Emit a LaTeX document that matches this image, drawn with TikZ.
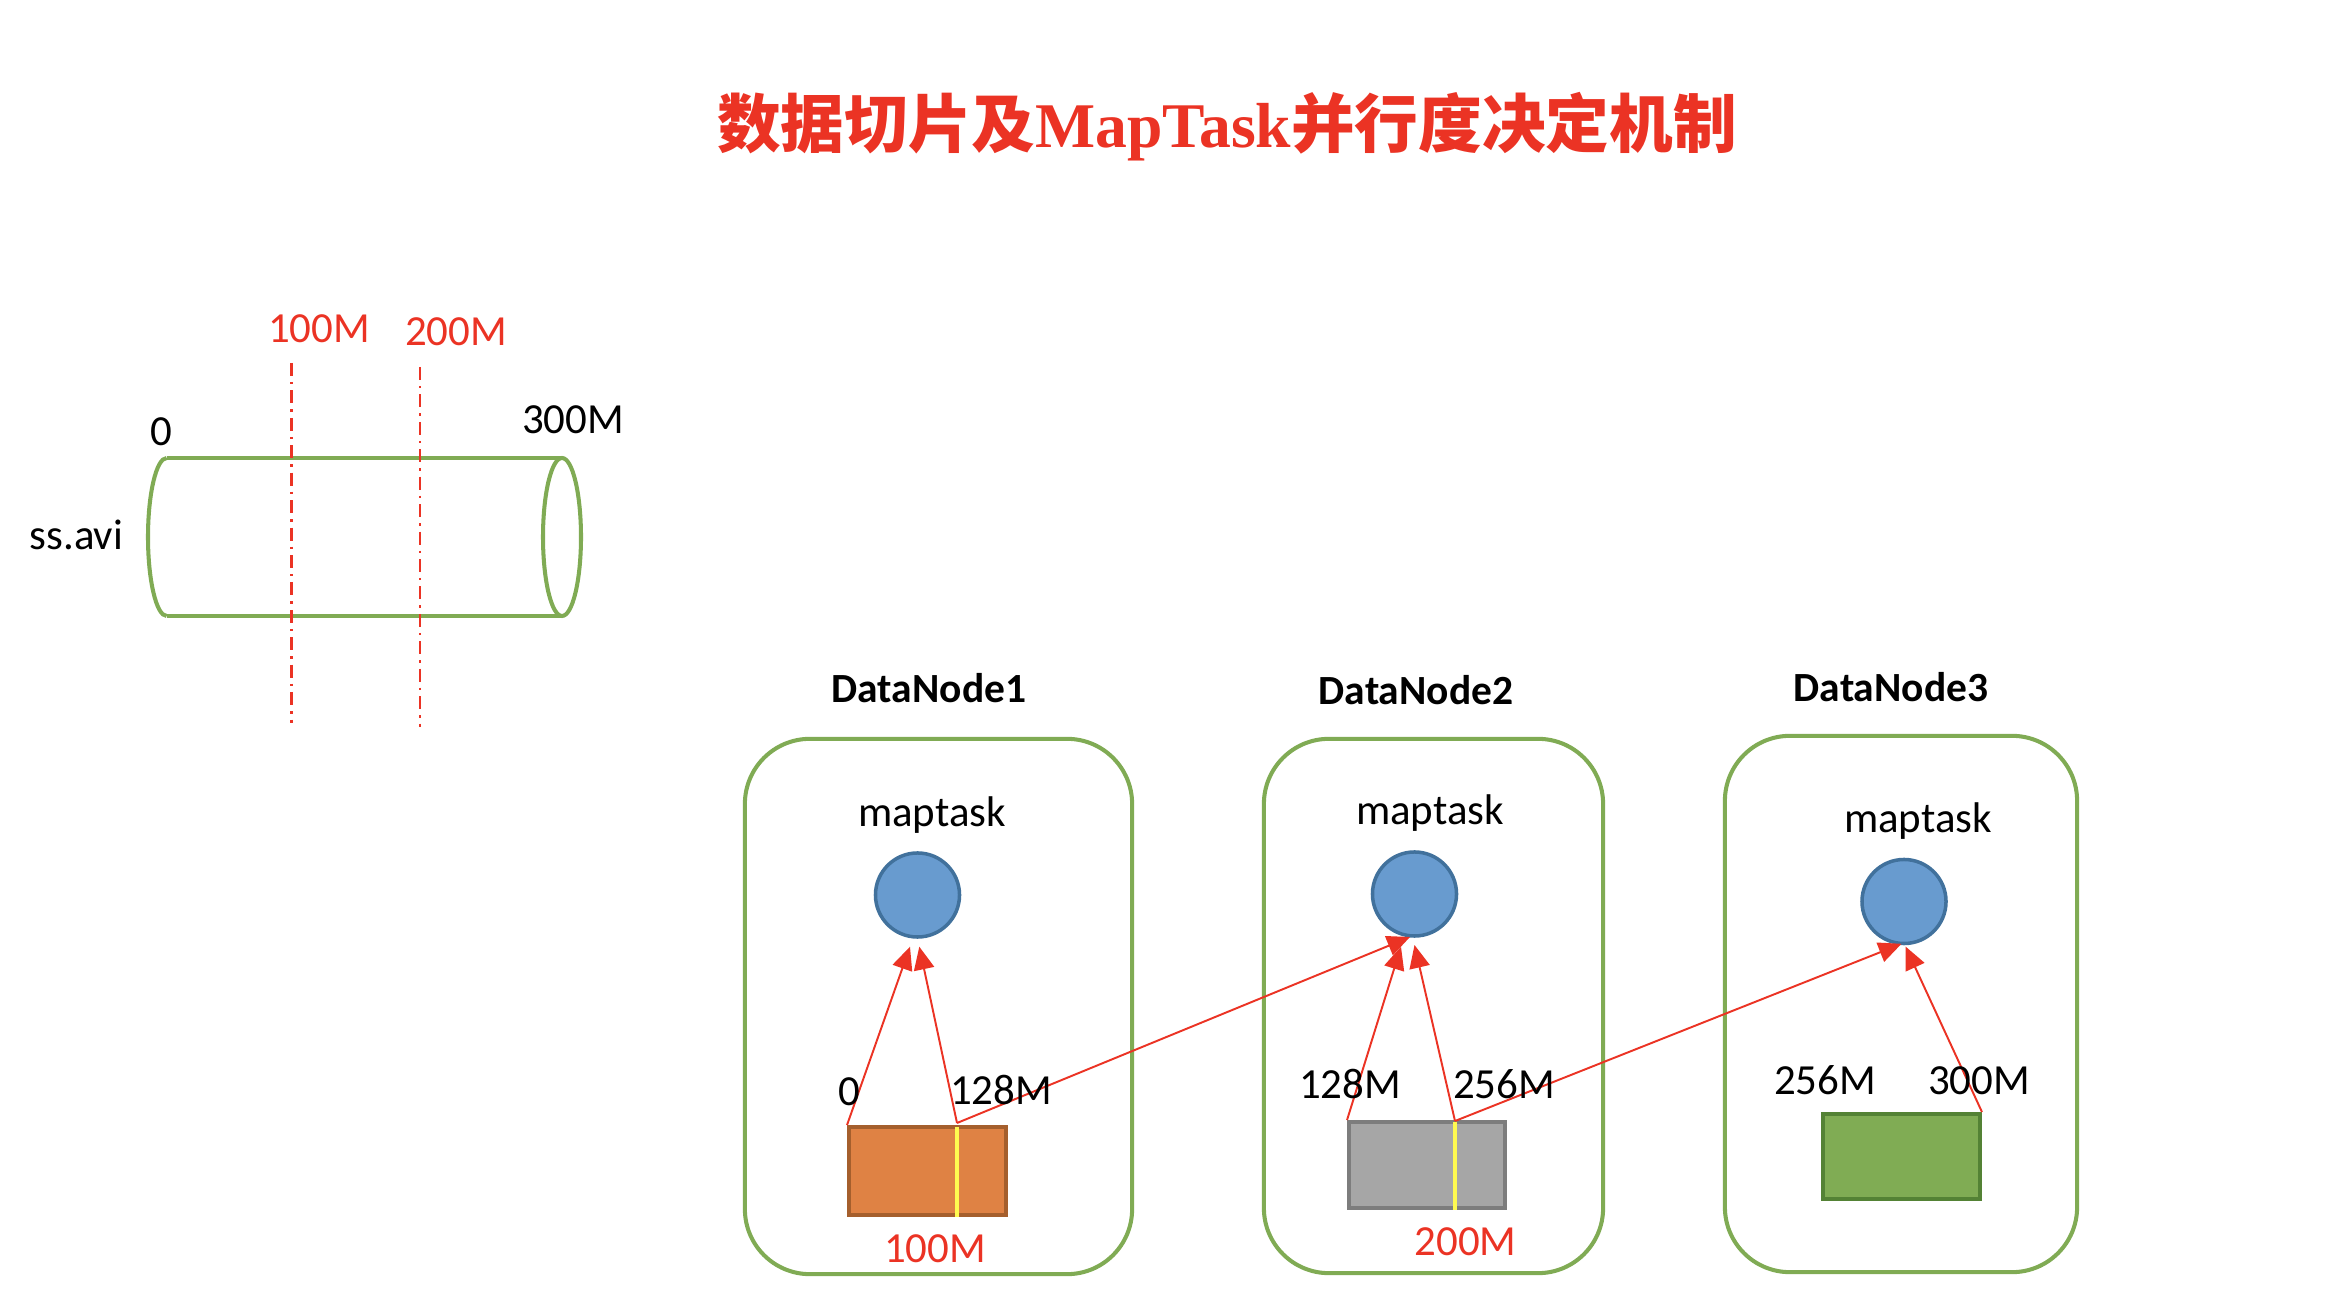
\documentclass[tikz,border=0pt]{standalone}
\usepackage{fontspec}
\setmainfont{Carlito}
\newfontfamily\cjk{Noto Sans CJK SC}
\newfontfamily\titlelatin{Liberation Serif}
\usetikzlibrary{arrows.meta,calc}
\definecolor{myred}{RGB}{235,51,36}
\definecolor{mygreen}{RGB}{128,171,84}
\definecolor{myblue}{RGB}{104,155,207}
\definecolor{mybluedark}{RGB}{65,113,156}
\definecolor{myorange}{RGB}{223,130,68}
\definecolor{myorangedark}{RGB}{165,95,45}
\definecolor{mygray}{RGB}{166,166,166}
\definecolor{mygraydark}{RGB}{125,125,125}
\definecolor{mygreenfill}{RGB}{128,172,84}
\definecolor{mygreendark}{RGB}{84,130,53}
\definecolor{myyellow}{RGB}{255,250,80}
\begin{document}
\begin{tikzpicture}[x=0.01cm,y=-0.01cm,
  lbl/.style={anchor=base,inner sep=0pt,font=\fontsize{12.2}{14}\selectfont},
  redlbl/.style={lbl,text=myred},
  dnlbl/.style={anchor=base,inner sep=0pt,font=\fontsize{11.8}{14}\selectfont\bfseries},
  dnbox/.style={draw=mygreen,line width=1.15pt,rounded corners=0.65cm,inner sep=0pt},
  task/.style={circle,draw=mybluedark,fill=myblue,line width=1pt,minimum size=0.84cm,inner sep=0pt},
  block/.style={rectangle,line width=1.1pt,inner sep=0pt},
  arr/.style={draw=myred,line width=0.55pt,-{Triangle[length=6.5pt,width=5.8pt]}},
  cut/.style={draw=myred,line width=0.7pt,dash pattern=on 3.7pt off 1.7pt on 0.7pt off 1.7pt},
  yel/.style={draw=myyellow,line width=1.3pt},
  cyl/.style={draw=mygreen,line width=1.15pt},
]
\useasboundingbox (0,0) rectangle (2342,1307);

% title
\node[anchor=base,inner sep=0pt,text=myred,font=\fontsize{18.1}{22}\selectfont\bfseries] (title) at (1227,148) {\cjk 数据切片及{\titlelatin MapTask}并行度决定机制};

% file cylinder
\draw[cyl] (166.7,458) -- (563,458);
\draw[cyl] (166.7,616) -- (563,616);
\draw[cyl] (562,537) ellipse[x radius=19,y radius=79];
\draw[cyl] (166.7,458) .. controls (156.4,458) and (148,493.4) .. (148,537) .. controls (148,580.6) and (156.4,616) .. (166.7,616);
\draw[cut] (291.7,363) -- (291.7,723);
\draw[cut] (420,367) -- (420,727);
\node[redlbl] (l100top) at (319,343) {100M};
\node[redlbl] (l200top) at (456,346) {200M};
\node[lbl] (lzero) at (161,446) {0};
\node[lbl] (l300top) at (573,434) {300M};
\node[lbl] (lfile) at (76.5,550) {ss.avi};

% DataNode boxes
\node[dnbox,minimum width=3.87cm,minimum height=5.35cm] (dn1) at (938.5,1006.5) {};
\node[dnbox,minimum width=3.39cm,minimum height=5.34cm] (dn2) at (1433.5,1006) {};
\node[dnbox,minimum width=3.52cm,minimum height=5.36cm] (dn3) at (1901,1004) {};
\node[dnlbl] (dn1l) at (929,703) {DataNode1};
\node[dnlbl] (dn2l) at (1416,705) {DataNode2};
\node[dnlbl] (dn3l) at (1891,702) {DataNode3};
\node[lbl] (m1l) at (932,827) {maptask};
\node[lbl] (m2l) at (1430,825) {maptask};
\node[lbl] (m3l) at (1918,833) {maptask};

% map tasks
\node[task] (c1) at (917.5,895) {};
\node[task] (c2) at (1414.5,894) {};
\node[task] (c3) at (1904,901.5) {};

% blocks
\node[block,draw=myorangedark,fill=myorange,minimum width=1.57cm,minimum height=0.88cm] (r1) at (927.5,1171) {};
\node[block,draw=mygraydark,fill=mygray,minimum width=1.56cm,minimum height=0.86cm] (r2) at (1427,1165) {};
\node[block,draw=mygreendark,fill=mygreenfill,minimum width=1.57cm,minimum height=0.85cm] (r3) at (1901.5,1156.5) {};
\draw[yel] (957,1127) -- (957,1217);
\draw[yel] (1455,1122) -- (1455,1210);

% split points
\coordinate (s1a) at (r1.north west);
\coordinate (s1b) at (957,1123);
\coordinate (s2a) at (r2.north west);
\coordinate (s2b) at (1455,1121);
\coordinate (s3) at (r3.north east);
\coordinate (t1a) at ($(c1)+(-7.5,51.7)$);
\coordinate (t1b) at ($(c1)+(1.8,51.7)$);
\coordinate (t2in) at ($(c2)+(-4.5,43)$);
\coordinate (t2a) at ($(c2)+(-13.5,52.7)$);
\coordinate (t2b) at ($(c2)+(0,51)$);
\coordinate (t3in) at ($(c3)+(-2.5,42.3)$);
\coordinate (t3b) at ($(c3)+(1.5,45)$);

\draw[arr] (s1a) -- (t1a);
\draw[arr] (s1b) -- (t1b);
\draw[arr] (s1b) -- (t2in);
\draw[arr] (s2a) -- (t2a);
\draw[arr] (s2b) -- (t2b);
\draw[arr] (s2b) -- (t3in);
\draw[arr] (s3) -- (t3b);

% offsets
\node[lbl] (o0) at (849,1106) {0};
\node[lbl] (o128a) at (1001,1105) {128M};
\node[redlbl] (o100) at (935,1262.5) {100M};
\node[lbl] (o128b) at (1350,1099) {128M};
\node[lbl] (o256a) at (1504,1099) {256M};
\node[redlbl] (o200) at (1465.5,1255) {200M};
\node[lbl] (o256b) at (1825,1094) {256M};
\node[lbl] (o300) at (1979,1094) {300M};
\end{tikzpicture}
\end{document}
